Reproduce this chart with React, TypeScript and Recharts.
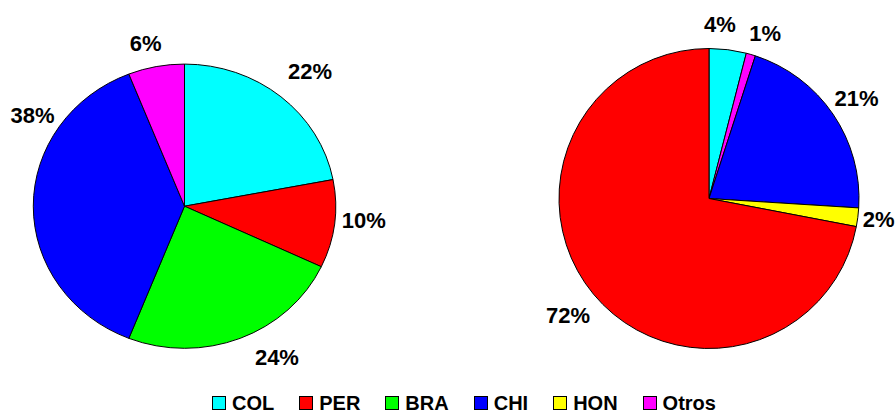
import { Legend, Pie, PieChart, Sector } from "recharts";

const leftNames = ["COL", "PER", "BRA", "CHI", "Otros"];
const leftValues = [22, 10, 24, 38, 6];

const rightNames = ["COL", "Otros", "CHI", "HON", "PER"];
const rightValues = [4, 1, 21, 2, 72];

const legendNames = ["COL", "PER", "BRA", "CHI", "HON", "Otros"];

const COLORS: Record<string, string> = {
  COL: "#00ffff",
  PER: "#ff0000",
  BRA: "#00ff00",
  CHI: "#0000ff",
  HON: "#ffff00",
  Otros: "#ff00ff",
};

// the left pie is drawn a bit flatter than the right one
const LEFT_SQUASH = 0.94;

// label nudges off the slice middle: a = degrees clockwise, r = radius factor
type Nudge = { a?: number; r?: number };
const LEFT_NUDGE: Record<string, Nudge> = {
  COL: { a: 1.6, r: 1.26 },
  PER: { a: -2.5 },
  BRA: { a: -8.2, r: 1.23 },
  CHI: { a: 32.4 },
  Otros: { a: -1.9, r: 1.17 },
};
const RIGHT_NUDGE: Record<string, Nudge> = {
  COL: { a: -3.6, r: 1.16 },
  Otros: { a: 2.6, r: 1.16 },
  CHI: { r: 1.19 },
  HON: { r: 1.14 },
  PER: { r: 1.22 },
};

const FONT = '"Liberation Sans", Arial, sans-serif';
const RAD = Math.PI / 180;

const leftData = leftNames.map((name, i) => ({
  name,
  value: leftValues[i],
  fill: COLORS[name],
}));
const rightData = rightNames.map((name, i) => ({
  name,
  value: rightValues[i],
  fill: COLORS[name],
}));

function makeLabel(factor: number, squash: number, nudge: Record<string, Nudge>) {
  return (props: any) => {
    const { cx, cy, midAngle, outerRadius, value, name } = props;
    const n = nudge[name] ?? {};
    const angle = midAngle - (n.a ?? 0);
    const r = outerRadius * (n.r ?? factor);
    const x = cx + r * Math.cos(-angle * RAD);
    const y = cy + r * Math.sin(-angle * RAD) * squash;
    return (
      <text
        x={x}
        y={y}
        textAnchor="middle"
        dominantBaseline="central"
        fill="#000"
        fontFamily={FONT}
        fontWeight="bold"
        fontSize={22}
      >
        {`${value}%`}
      </text>
    );
  };
}

function SquashedSector(props: any) {
  const { cy } = props;
  return (
    <g transform={`translate(0 ${cy}) scale(1 ${LEFT_SQUASH}) translate(0 ${-cy})`}>
      <Sector {...props} />
    </g>
  );
}

function LegendRow() {
  return (
    <div style={{ display: "flex", alignItems: "center", paddingLeft: 212 }}>
      {legendNames.map((name) => (
        <div key={name} style={{ display: "flex", alignItems: "center", marginRight: 25 }}>
          <span
            style={{
              width: 12,
              height: 12,
              background: COLORS[name],
              border: "1px solid #000",
              marginRight: 6,
              display: "inline-block",
            }}
          />
          <span style={{ fontFamily: FONT, fontWeight: "bold", fontSize: 20, color: "#000", lineHeight: "20px" }}>
            {name}
          </span>
        </div>
      ))}
    </div>
  );
}

export default function App() {
  return (
    <div style={{ position: "absolute", left: 0, top: 0, background: "#fff" }}>
      <PieChart width={896} height={413} margin={{ top: 0, right: 0, bottom: 0, left: 0 }}>
        <Pie
          data={leftData}
          dataKey="value"
          nameKey="name"
          cx={184.5}
          cy={206.2}
          outerRadius={151.2}
          startAngle={90}
          endAngle={-270}
          stroke="#000"
          strokeWidth={1}
          labelLine={false}
          label={makeLabel(1.19, LEFT_SQUASH, LEFT_NUDGE)}
          shape={SquashedSector}
          isAnimationActive={false}
        />
        <Pie
          data={rightData}
          dataKey="value"
          nameKey="name"
          cx={709}
          cy={198.5}
          outerRadius={150}
          startAngle={90}
          endAngle={-270}
          stroke="#000"
          strokeWidth={1}
          labelLine={false}
          label={makeLabel(1.16, 1, RIGHT_NUDGE)}
          isAnimationActive={false}
        />
        <Legend
          content={() => <LegendRow />}
          wrapperStyle={{ position: "absolute", left: 0, top: 393, width: 896, height: 20 }}
        />
      </PieChart>
    </div>
  );
}
